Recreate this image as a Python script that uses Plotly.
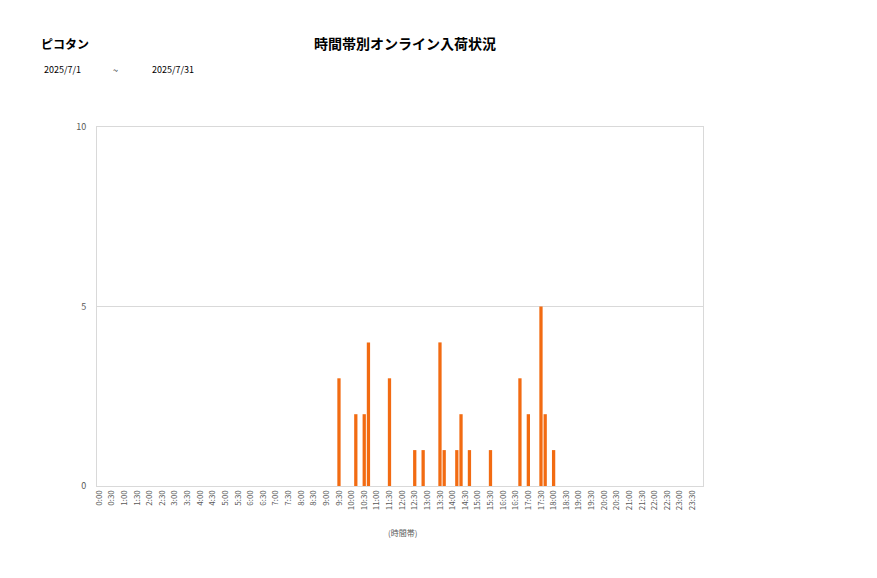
import plotly.graph_objects as go

# 10分刻みの時間帯 (0:00 〜 23:50)
slots = ["%d:%02d" % (h, m) for h in range(24) for m in (0, 10, 20, 30, 40, 50)]
tick_labels = slots[::3]

# 入荷のあった時間帯と件数
hit_slots = ["9:30", "10:10", "10:30", "10:40", "11:30", "12:30", "12:50",
             "13:30", "13:40", "14:10", "14:20", "14:40", "15:30",
             "16:40", "17:00", "17:30", "17:40", "18:00"]
hit_counts = [3, 2, 2, 4, 3, 1, 1, 4, 1, 1, 2, 1, 1, 3, 2, 5, 2, 1]

counts = dict(zip(hit_slots, hit_counts))
values = [counts.get(s, 0) for s in slots]

shop = "ピコタン"
title = "時間帯別オンライン入荷状況"
date_from = "2025/7/1"
date_to = "2025/7/31"

W, H = 877, 578
OFF = 8  # page body margin
L, R, T, B = 97, 703, 127, 486


def px(x):
    return (x - L) / (R - L)


def py(y):
    return (B - y) / (B - T)


fig = go.Figure()
fig.add_trace(go.Bar(x=slots, y=values, marker_color="#F26B12",
                     marker_line_width=0, hoverinfo="x+y"))

grid = "#d9d9d9"
jp = "Noto Sans CJK JP"
fig.update_layout(
    width=W, height=H,
    margin=dict(l=L - OFF, r=W + OFF - R, t=T - OFF, b=H + OFF - B),
    paper_bgcolor="white", plot_bgcolor="white",
    showlegend=False, bargap=0.22,
    font=dict(family=jp, color="#595959"),
    xaxis=dict(type="category", categoryorder="array", categoryarray=slots,
               tickmode="array", tickvals=tick_labels, ticktext=tick_labels,
               tickangle=-90, tickfont=dict(size=8, color="#595959"),
               showline=True, linecolor=grid, mirror=True, showgrid=False,
               ticks="", fixedrange=True),
    yaxis=dict(range=[0, 10], tickvals=[0, 5, 10], showgrid=True, gridcolor=grid,
               showline=True, linecolor=grid, mirror=True, zeroline=False,
               tickfont=dict(size=9, color="#595959"), ticks="", ticklabelstandoff=8),
)

ann = [
    (shop, 39, 43, 12, "#000000", "left", True),
    (title, 405, 43, 14, "#000000", "center", True),
    (date_from, 42, 70, 9, "#000000", "left", False),
    ("~", 115, 71, 9, "#000000", "center", False),
    (date_to, 150, 70, 9, "#000000", "left", False),
    ("(時間帯)", 402, 532, 8, "#595959", "center", False),
]
for text, x, y, size, color, anchor, bold in ann:
    fig.add_annotation(text="<b>%s</b>" % text if bold else text,
                       xref="paper", yref="paper", x=px(x), y=py(y),
                       xanchor=anchor, yanchor="middle", showarrow=False,
                       font=dict(size=size, color=color, family=jp))

fig.write_html("out.html")
